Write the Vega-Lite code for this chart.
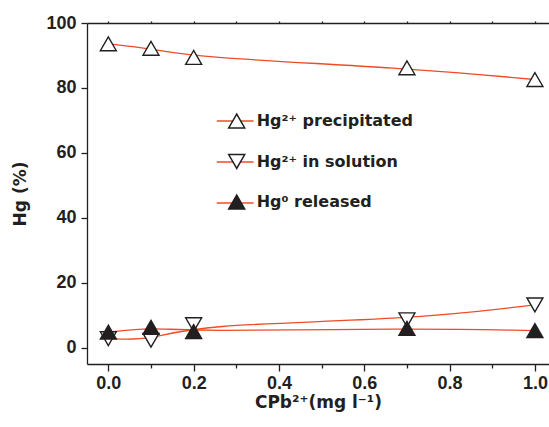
{
  "$schema": "https://vega.github.io/schema/vega-lite/v6.json",
  "autosize": "none",
  "width": 462,
  "height": 341,
  "padding": {"left": 87, "top": 23, "right": 0, "bottom": 63},
  "background": "white",
  "config": {
    "view": {"stroke": null},
    "axis": {
      "domainColor": "#231f20",
      "domainWidth": 1.3,
      "tickColor": "#231f20",
      "tickWidth": 1.3,
      "labelFont": "Liberation Sans",
      "labelFontWeight": "bold",
      "labelFontSize": 18,
      "labelColor": "#231f20",
      "titleFont": "DejaVu Sans",
      "titleFontWeight": "bold",
      "titleFontSize": 17,
      "titleColor": "#231f20",
      "grid": false
    },
    "legend": {
      "labelFont": "DejaVu Sans",
      "labelFontWeight": "bold",
      "labelFontSize": 16,
      "labelColor": "#231f20",
      "padding": 0,
      "offset": 0
    }
  },
  "data": {
    "values": [
      {"c": 0.0, "hg": 93.6, "series": "Hg²⁺ precipitated"},
      {"c": 0.1, "hg": 92.2, "series": "Hg²⁺ precipitated"},
      {"c": 0.2, "hg": 89.4, "series": "Hg²⁺ precipitated"},
      {"c": 0.7, "hg": 86.2, "series": "Hg²⁺ precipitated"},
      {"c": 1.0, "hg": 82.6, "series": "Hg²⁺ precipitated"},
      {"c": 0.0, "hg": 2.8, "series": "Hg²⁺ in solution"},
      {"c": 0.1, "hg": 2.3, "series": "Hg²⁺ in solution"},
      {"c": 0.2, "hg": 7.1, "series": "Hg²⁺ in solution"},
      {"c": 0.7, "hg": 8.6, "series": "Hg²⁺ in solution"},
      {"c": 1.0, "hg": 13.2, "series": "Hg²⁺ in solution"},
      {"c": 0.0, "hg": 4.8, "series": "Hg⁰ released"},
      {"c": 0.1, "hg": 6.3, "series": "Hg⁰ released"},
      {"c": 0.2, "hg": 5.0, "series": "Hg⁰ released"},
      {"c": 0.7, "hg": 6.0, "series": "Hg⁰ released"},
      {"c": 1.0, "hg": 5.3, "series": "Hg⁰ released"}
    ]
  },
  "resolve": {"axis": {"x": "independent"}},
  "layer": [
    {
      "mark": {"type": "line", "interpolate": "basis", "strokeWidth": 1.3},
      "encoding": {
        "x": {
          "field": "c", "type": "quantitative",
          "scale": {"domain": [-0.05, 1.033], "nice": false, "zero": false},
          "axis": {
            "orient": "bottom",
            "values": [0, 0.1, 0.2, 0.3, 0.4, 0.5, 0.6, 0.7, 0.8, 0.9, 1.0],
            "tickSize": {"condition": {"test": "round(datum.value * 10) % 2 === 0", "value": 7}, "value": 4},
            "labelExpr": "round(datum.value * 10) % 2 === 0 ? format(datum.value, '.1f') : ''",
            "labelPadding": 3,
            "labelFlush": false,
            "labelOverlap": false,
            "title": "CPb²⁺(mg l⁻¹)",
            "titlePadding": 2
          }
        },
        "y": {
          "field": "hg", "type": "quantitative",
          "scale": {"domain": [-5, 100], "nice": false, "zero": false},
          "axis": {
            "orient": "left",
            "values": [0, 10, 20, 30, 40, 50, 60, 70, 80, 90, 100],
            "tickSize": {"condition": {"test": "datum.value % 20 === 0", "value": 6}, "value": 4},
            "labelExpr": "datum.value % 20 === 0 ? datum.label : ''",
            "labelPadding": 5,
            "labelOverlap": false,
            "labelFlush": false,
            "title": "Hg (%)",
            "titlePadding": 16
          }
        },
        "stroke": {
          "field": "series", "type": "nominal",
          "scale": {
            "domain": ["Hg²⁺ precipitated", "Hg²⁺ in solution", "Hg⁰ released"],
            "range": ["#ef4b26", "#ef4b26", "#ef4b26"]
          },
          "legend": {
            "orient": "none",
            "legendX": 139.2,
            "legendY": 89,
            "title": null,
            "symbolType": "M-2.3,0L2.3,0",
            "symbolSize": 256,
            "symbolStrokeWidth": 1.3,
            "labelOpacity": 0,
            "labelOffset": 11,
            "rowPadding": 24,
            "encode": {"symbols": {"update": {"fill": {"value": "transparent"}}}}
          }
        }
      }
    },
    {
      "mark": {"type": "point", "filled": true, "opacity": 1, "size": 256, "stroke": "#231f20", "strokeWidth": 1.4},
      "encoding": {
        "x": {
          "field": "c", "type": "quantitative",
          "axis": {
            "orient": "top",
            "values": [0, 0.1, 0.2, 0.3, 0.4, 0.5, 0.6, 0.7, 0.8, 0.9, 1.0],
            "tickSize": 2,
            "labels": false,
            "title": null
          }
        },
        "y": {"field": "hg", "type": "quantitative"},
        "shape": {
          "field": "series", "type": "nominal",
          "sort": {"field": "hg", "op": "max", "order": "descending"},
          "scale": {"range": ["triangle-up", "triangle-down", "triangle-up"]},
          "legend": {
            "orient": "none",
            "legendX": 140.7,
            "legendY": 89,
            "title": null,
            "symbolSize": 256,
            "symbolStrokeWidth": 1.5,
            "labelOffset": 11,
            "rowPadding": 20.5,
            "encode": {
              "symbols": {
                "update": {
                  "stroke": {"value": "#231f20"},
                  "strokeWidth": {"value": 1.5},
                  "opacity": {"value": 1}
                }
              }
            }
          }
        },
        "fill": {
          "field": "series", "type": "nominal",
          "sort": {"field": "hg", "op": "max", "order": "descending"},
          "scale": {"range": ["white", "white", "#231f20"]}
        }
      }
    }
  ]
}
